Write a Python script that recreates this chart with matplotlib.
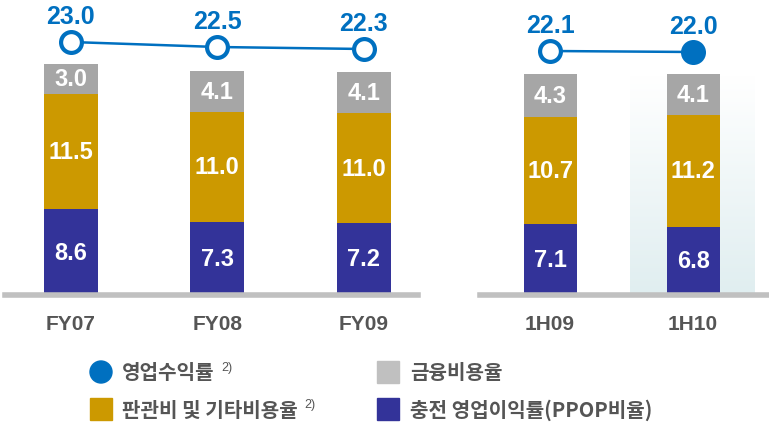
import numpy as np
import matplotlib.pyplot as plt
from matplotlib.patches import Circle, Rectangle
from matplotlib.colors import LinearSegmentedColormap

plt.rcParams['font.family'] = ['Liberation Sans', 'Noto Sans CJK KR', 'DejaVu Sans']

# data
cats_fy = ['FY07', 'FY08', 'FY09']
cats_h = ['1H09', '1H10']
ppop_fy = [8.6, 7.3, 7.2]
sga_fy = [11.5, 11.0, 11.0]
fin_fy = [3.0, 4.1, 4.1]
rev_fy = [23.0, 22.5, 22.3]
ppop_h = [7.1, 6.8]
sga_h = [10.7, 11.2]
fin_h = [4.3, 4.1]
rev_h = [22.1, 22.0]

c_navy = '#333399'
c_gold = '#cc9900'
c_gray = '#a6a6a6'
c_blue = '#0070c0'
c_txt = '#555555'

W, H = 769, 427
fig = plt.figure(figsize=(W / 100, H / 100), dpi=100)

base_y = 296
top_val = base_y / 10.0


def panel(x0, x1, xlim, cats, ppop, sga, fin, rev, last_filled=False, highlight=None):
    ax = fig.add_axes([x0 / W, 1 - base_y / H, (x1 - x0) / W, base_y / H])
    x = np.arange(len(cats))
    if highlight is not None:
        cmap = LinearSegmentedColormap.from_list('hl', ['#ffffff', '#e0eef0'])
        grad = np.linspace(0, 1, 100).reshape(-1, 1)
        ax.imshow(grad, cmap=cmap, aspect='auto', extent=[highlight[0], highlight[1], 0, 22],
                  zorder=0, vmin=0, vmax=1)
    ax.set_xlim(*xlim)
    ax.set_ylim(0, top_val)
    w = 0.37
    ppop = np.array(ppop); sga = np.array(sga); fin = np.array(fin)
    ax.bar(x, ppop, w, color=c_navy, zorder=2)
    ax.bar(x, sga, w, bottom=ppop, color=c_gold, zorder=2)
    ax.bar(x, fin, w, bottom=ppop + sga, color=c_gray, zorder=2)
    for i in range(len(x)):
        for b, v in [(0, ppop[i]), (ppop[i], sga[i]), (ppop[i] + sga[i], fin[i])]:
            ax.text(x[i], b + v / 2, f'{v:.1f}', ha='center', va='center', color='white',
                    fontsize=17, fontweight='bold', zorder=3)
    for s in ['top', 'left', 'right']:
        ax.spines[s].set_visible(False)
    ax.spines['bottom'].set_color('#c0c0c0')
    ax.spines['bottom'].set_linewidth(4)
    ax.set_yticks([])
    ax.set_xticks(x)
    ax.set_xticklabels(cats, fontsize=15, color=c_txt, fontweight='bold')
    ax.tick_params(axis='x', length=0, pad=14)
    ax.patch.set_alpha(0)

    ax2 = ax.twinx()
    ax2.set_ylim(23.0 - (base_y - 43) / 10.0, 23.0 - (base_y - 43) / 10.0 + top_val)
    ax2.axis('off')
    ax2.plot(x, rev, color=c_blue, lw=1.8, zorder=4)
    for i in range(len(x)):
        fc = c_blue if (last_filled and i == len(x) - 1) else 'white'
        ax2.plot(x[i], rev[i], 'o', ms=15, mfc=fc, mec=c_blue, mew=3, zorder=5)
        ax2.annotate(f'{rev[i]:.1f}', (x[i], rev[i]), xytext=(0, 19), textcoords='offset points',
                     ha='center', va='center', color=c_blue, fontsize=18, fontweight='bold')
    return ax


panel(5, 418, (-0.45, 2.37), cats_fy, ppop_fy, sga_fy, fin_fy, rev_fy)
panel(480, 769, (-0.49, 1.53), cats_h, ppop_h, sga_h, fin_h, rev_h,
      last_filled=True, highlight=(0.56, 1.43))

# legend
lg = fig.add_axes([0, 0, 1, 1])
lg.set_xlim(0, W)
lg.set_ylim(H, 0)
lg.axis('off')
lg.set_aspect('equal')
lg.add_patch(Circle((101, 373), 11, color=c_blue))
lg.add_patch(Rectangle((90, 399), 22, 22, color=c_gold))
lg.add_patch(Rectangle((377, 362), 22, 22, color='#c0c0c0'))
lg.add_patch(Rectangle((377, 399), 22, 22, color=c_navy))
kw = dict(va='center', ha='left', fontsize=14.5, color=c_txt, fontweight='bold',
          family=['Noto Sans CJK KR', 'DejaVu Sans'])
t1 = lg.text(122, 373, '영업수익률', **kw)
t2 = lg.text(122, 410, '판관비 및 기타비용율', **kw)
lg.text(410, 373, '금융비용율', **kw)
lg.text(410, 410, '충전 영업이익률(PPOP비율)', **kw)
for t in (t1, t2):
    lg.annotate('2)', xy=(1, 0.75), xycoords=t, xytext=(5, 0), textcoords='offset points',
                va='center', ha='left', fontsize=9, color=c_txt)

fig.savefig('out.png', dpi=100)
